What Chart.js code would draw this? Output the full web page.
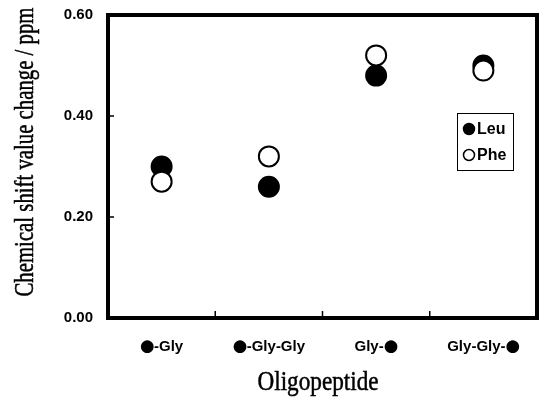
<!DOCTYPE html>
<html lang="en">
<head>
    <meta charset="UTF-8">
    <script src="https://cdn.jsdelivr.net/npm/chart.js"></script>
    <title>Chemical shift change</title>
    <style>
        html, body { margin: 0; padding: 0; background: #fff; }
        #wrap { width: 542px; height: 401px; position: relative; }
    </style>
</head>
<body>
    <div id="wrap"><canvas id="shiftChart" width="542" height="401"></canvas></div>

    <script>
        // data
        const peptides = ['\u25CF-Gly', '\u25CF-Gly-Gly', 'Gly-\u25CF', 'Gly-Gly-\u25CF'];
        const leuValues = [0.30, 0.26, 0.48, 0.50];
        const pheValues = [0.27, 0.32, 0.52, 0.49];
        const yTicks = [0.00, 0.20, 0.40, 0.60];

        const sans = "'Liberation Sans', Arial, Helvetica, sans-serif";
        const serif = "'Liberation Serif', 'Times New Roman', Times, serif";
        const dotFont = "'DejaVu Sans', sans-serif";

        // draw text squeezed horizontally to a given width (the scan uses a narrow Times)
        function squeezedText(ctx, text, x, y, width) {
            const w = ctx.measureText(text).width;
            ctx.save();
            ctx.translate(x, y);
            ctx.scale(Math.min(1, width / w), 1);
            ctx.lineWidth = 0.5;
            ctx.fillText(text, 0, 0);
            ctx.strokeText(text, 0, 0);
            ctx.restore();
        }

        // x labels: the residue dot is a big glyph, the rest is bold sans
        function drawCategoryLabel(ctx, label, cx, cy) {
            ctx.textBaseline = 'alphabetic';
            ctx.font = '100px ' + dotFont;
            const m = ctx.measureText('\u25CF');
            const dotSize = 100 * 13 / (m.actualBoundingBoxAscent + m.actualBoundingBoxDescent);
            const dotFontStr = dotSize.toFixed(1) + 'px ' + dotFont;
            const textFontStr = 'bold 15px ' + sans;
            const parts = label.split(/(\u25CF)/).filter(p => p !== '');
            const widths = parts.map(p => {
                if (p === '\u25CF') {
                    ctx.font = dotFontStr;
                    const mm = ctx.measureText(p);
                    return mm.actualBoundingBoxLeft + mm.actualBoundingBoxRight;
                }
                ctx.font = textFontStr;
                return ctx.measureText(p).width;
            });
            let x = cx - widths.reduce((s, w) => s + w, 0) / 2;
            ctx.textAlign = 'left';
            parts.forEach((p, i) => {
                ctx.textBaseline = 'alphabetic';
                if (p === '\u25CF') {
                    ctx.font = dotFontStr;
                    const mm = ctx.measureText(p);
                    const mid = (mm.actualBoundingBoxAscent - mm.actualBoundingBoxDescent) / 2;
                    ctx.fillText(p, x + mm.actualBoundingBoxLeft, cy + mid);
                } else {
                    ctx.font = textFontStr;
                    ctx.textBaseline = 'middle';
                    ctx.fillText(p, x, cy);
                }
                x += widths[i];
            });
        }

        // frame, inward ticks, x labels, axis titles and the boxed legend
        const decorations = {
            id: 'decorations',
            afterDraw(chart) {
                const { ctx, chartArea: a, scales } = chart;
                ctx.save();
                ctx.strokeStyle = '#000';
                ctx.fillStyle = '#000';

                // inward tick marks
                ctx.lineWidth = 1.5;
                ctx.beginPath();
                yTicks.forEach(v => {
                    const y = scales.y.getPixelForValue(v);
                    ctx.moveTo(a.left, y);
                    ctx.lineTo(a.left + 6, y);
                });
                for (let i = 0; i < peptides.length - 1; i++) {
                    const x = (scales.x.getPixelForTick(i) + scales.x.getPixelForTick(i + 1)) / 2;
                    ctx.moveTo(x, a.bottom);
                    ctx.lineTo(x, a.bottom - 7);
                }
                ctx.stroke();

                // box
                ctx.lineWidth = 4;
                ctx.strokeRect(a.left, a.top, a.right - a.left, a.bottom - a.top);

                // category labels
                peptides.forEach((p, i) => {
                    drawCategoryLabel(ctx, p, scales.x.getPixelForTick(i), a.bottom + 29);
                });

                // axis titles
                ctx.textAlign = 'center';
                ctx.textBaseline = 'alphabetic';
                ctx.font = '27px ' + serif;
                squeezedText(ctx, 'Oligopeptide', 318, 390, 121);

                ctx.save();
                ctx.translate(33, 152);
                ctx.rotate(-Math.PI / 2);
                ctx.font = '27px ' + serif;
                squeezedText(ctx, 'Chemical shift value change / ppm', 0, 0, 289);
                ctx.restore();

                // legend
                const lx = 457, ly = 113, lw = 56, lh = 57;
                ctx.lineWidth = 1;
                ctx.strokeRect(lx + 0.5, ly + 0.5, lw, lh);
                ctx.font = 'bold 16px ' + sans;
                ctx.textAlign = 'left';
                ctx.textBaseline = 'middle';
                const items = [
                    { label: 'Leu', y: ly + 16, fill: '#000' },
                    { label: 'Phe', y: ly + 42, fill: '#fff' }
                ];
                items.forEach(it => {
                    ctx.beginPath();
                    ctx.arc(lx + 12, it.y, 5.5, 0, Math.PI * 2);
                    ctx.fillStyle = it.fill;
                    ctx.fill();
                    ctx.lineWidth = 1.5;
                    ctx.stroke();
                    ctx.fillStyle = '#000';
                    ctx.fillText(it.label, lx + 20, it.y + 1);
                });
                ctx.restore();
            }
        };

        const ctx = document.getElementById('shiftChart').getContext('2d');
        const chart = new Chart(ctx, {
            type: 'line',
            data: {
                labels: peptides,
                datasets: [
                    {
                        label: 'Leu',
                        data: leuValues,
                        showLine: false,
                        pointRadius: 10,
                        pointBorderWidth: 2,
                        pointBackgroundColor: '#000',
                        pointBorderColor: '#000',
                        order: 2
                    },
                    {
                        label: 'Phe',
                        data: pheValues,
                        showLine: false,
                        pointRadius: 10,
                        pointBorderWidth: 2,
                        pointBackgroundColor: '#fff',
                        pointBorderColor: '#000',
                        order: 1
                    }
                ]
            },
            options: {
                responsive: false,
                animation: false,
                layout: {
                    autoPadding: false,
                    padding: { top: 15, right: 5, left: 0, bottom: 0 }
                },
                plugins: {
                    legend: { display: false },
                    tooltip: { enabled: false }
                },
                scales: {
                    x: {
                        type: 'category',
                        offset: true,
                        grid: { display: false, drawTicks: false },
                        border: { display: false },
                        ticks: { display: false },
                        afterFit(scale) {
                            scale.height = 83;
                            scale.paddingLeft = 0;
                            scale.paddingRight = 0;
                        }
                    },
                    y: {
                        min: 0,
                        max: 0.6,
                        grid: { display: false, drawTicks: false },
                        border: { display: false },
                        afterBuildTicks(scale) {
                            scale.ticks = yTicks.map(v => ({ value: v }));
                        },
                        ticks: {
                            color: '#000',
                            padding: 15,
                            font: { family: sans, size: 15, weight: 'bold' },
                            callback: v => v.toFixed(2)
                        },
                        afterFit(scale) {
                            scale.width = 108;
                            scale.paddingTop = 0;
                            scale.paddingBottom = 0;
                        }
                    }
                }
            },
            plugins: [decorations]
        });
    </script>
</body>
</html>
